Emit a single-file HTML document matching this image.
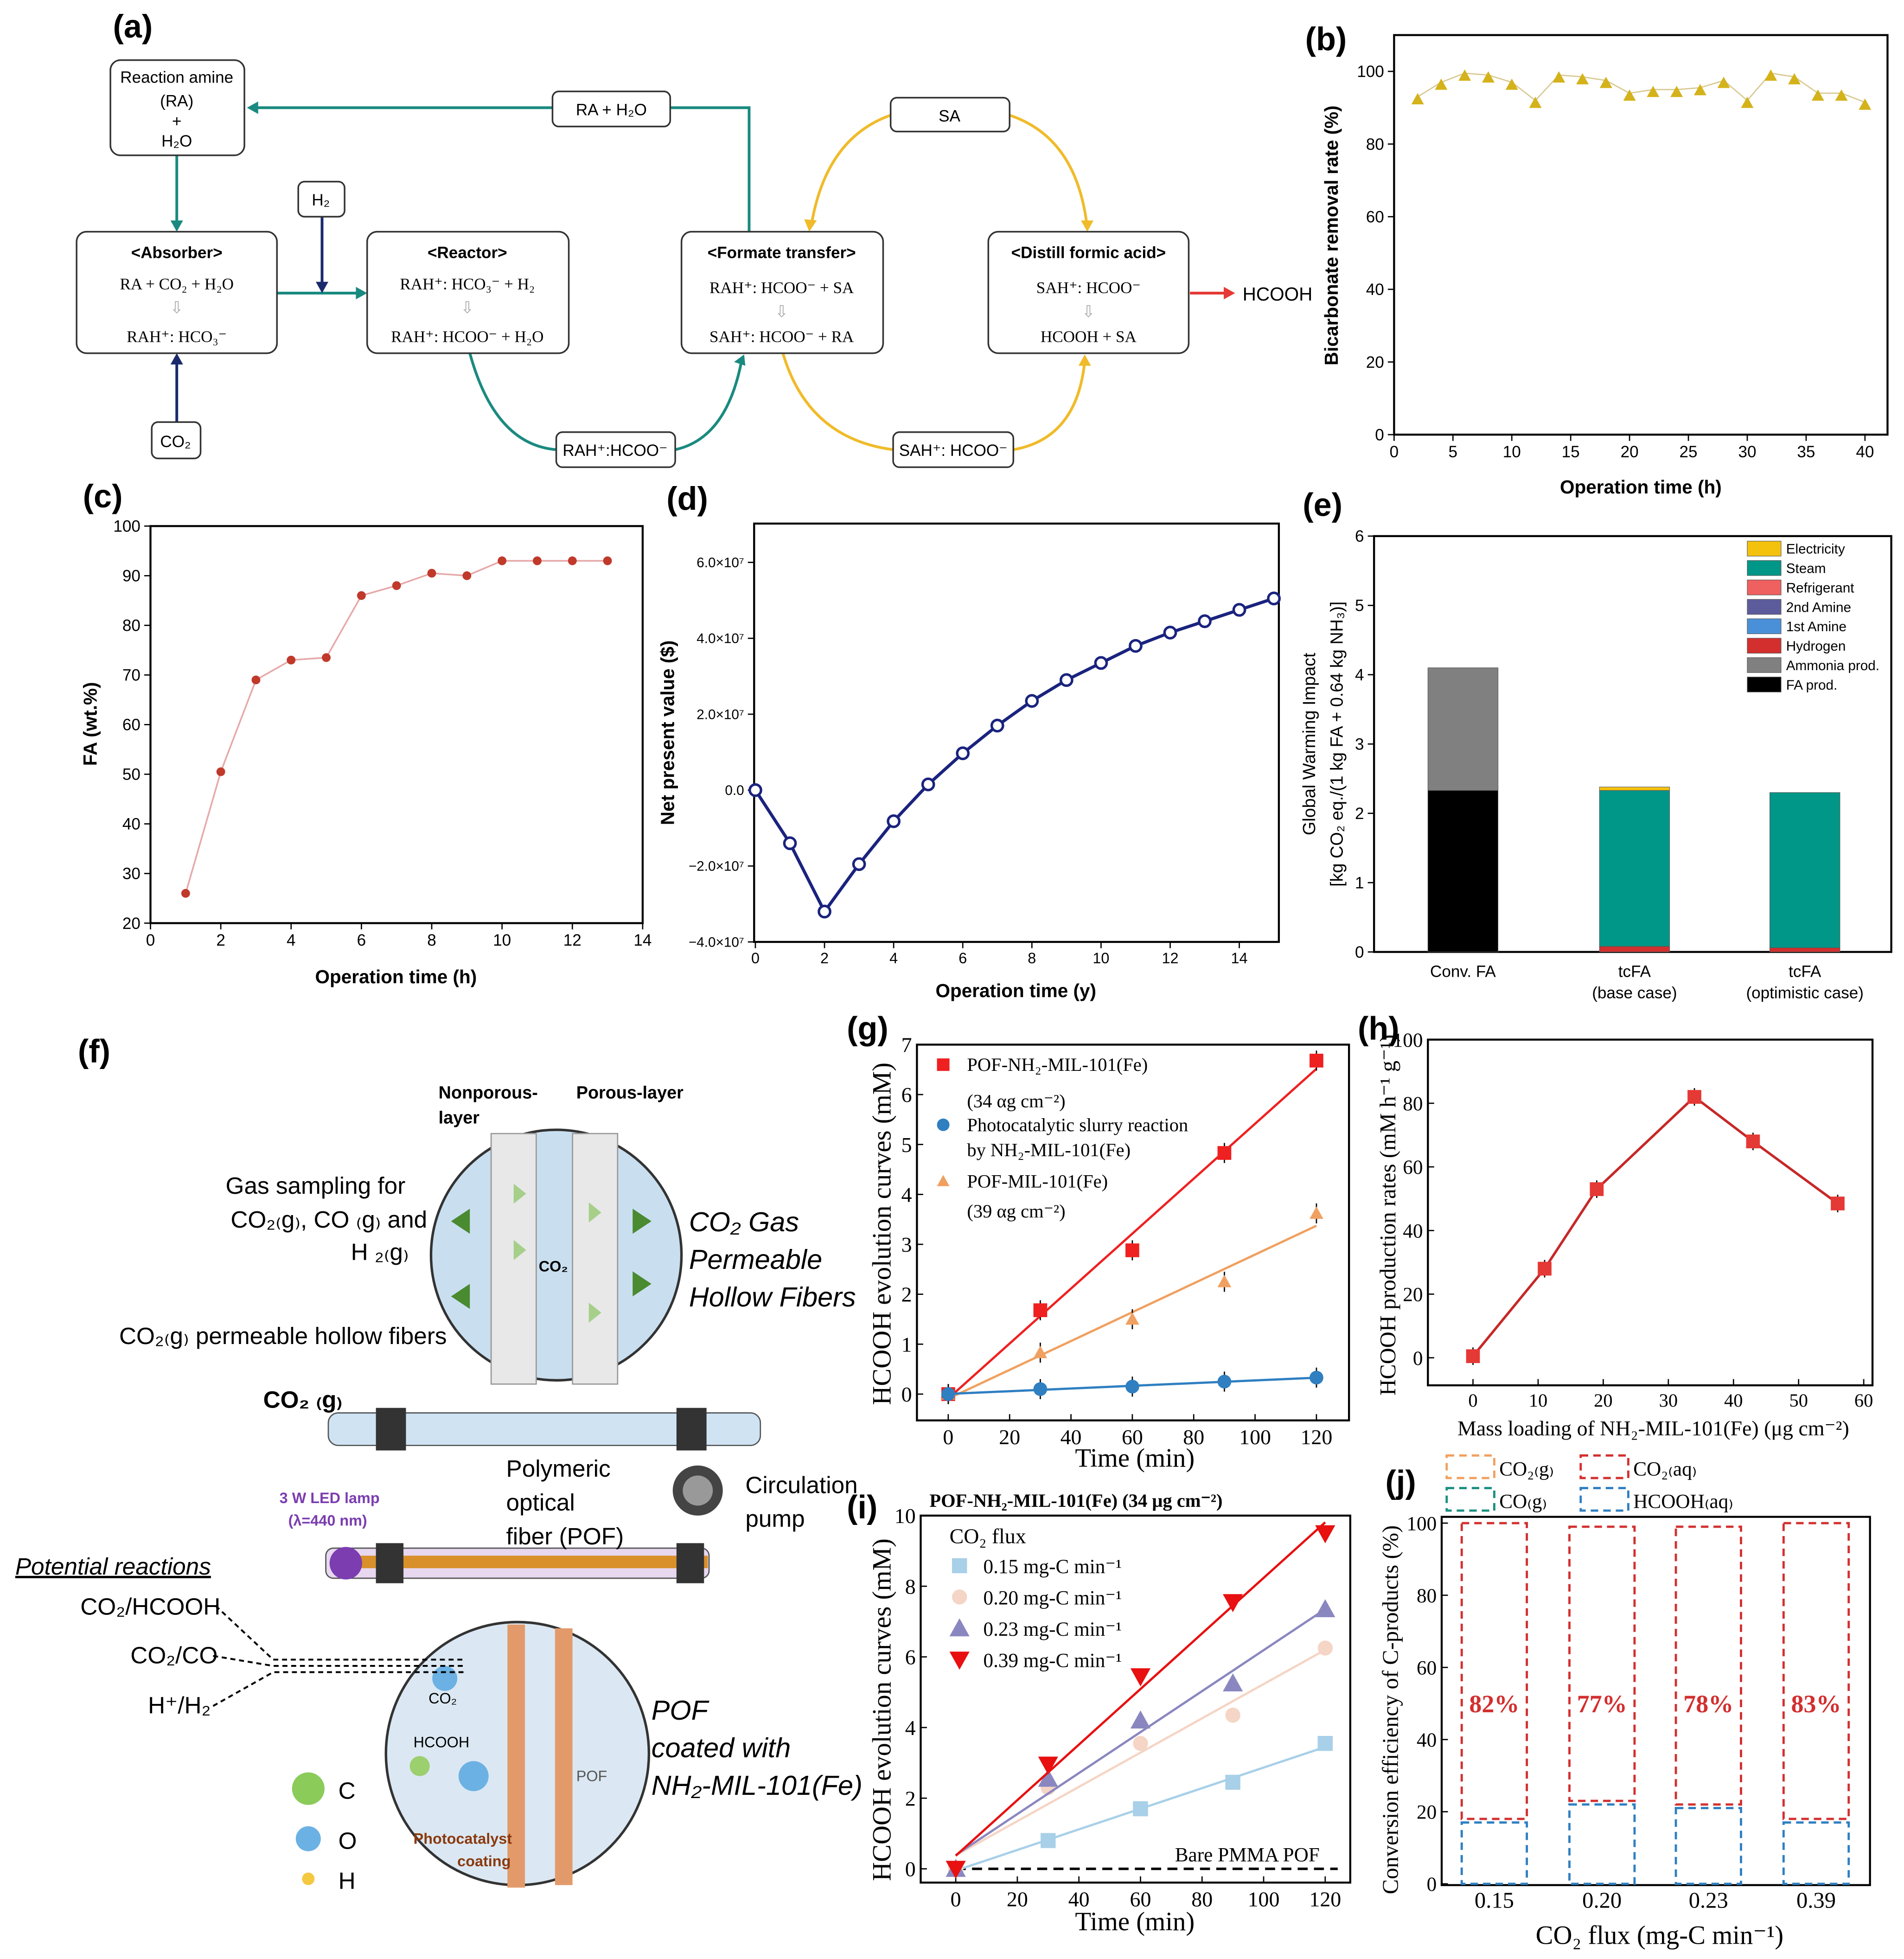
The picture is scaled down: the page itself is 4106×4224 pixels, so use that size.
<!DOCTYPE html>
<html><head><meta charset="utf-8"><style>
html,body{margin:0;padding:0;background:#fff}
svg{display:block}
.sans{font-family:"Liberation Sans",sans-serif}
.serif{font-family:"Liberation Serif",serif}
</style></head><body>
<svg id="s" width="4106" height="4224" viewBox="0 0 1520 1564" xmlns="http://www.w3.org/2000/svg">
<rect width="1520" height="1564" fill="#fff"/>
<g class="sans" font-weight="bold" font-size="26" fill="#000">
<text x="90" y="30">(a)</text>
<text x="1042" y="40">(b)</text>
<text x="66" y="405">(c)</text>
<text x="532" y="407">(d)</text>
<text x="1040" y="412">(e)</text>
<text x="62" y="848">(f)</text>
<text x="676" y="830">(g)</text>
<text x="1084" y="830">(h)</text>
<text x="676" y="1212">(i)</text>
<text x="1106" y="1192">(j)</text>
</g>

<g class="sans" font-size="13">
<g fill="none" stroke="#1a8a80" stroke-width="2.2">
<polyline points="598,185 598,86 200,86"/>
<line x1="141" y1="124" x2="141" y2="180"/>
<line x1="221" y1="234" x2="288" y2="234"/>
<path d="M375,282 Q395,355 444,359"/>
<path d="M539,359 Q580,350 592,288"/>
</g>
<g fill="#1a8a80"><path d="M197,86 l9,-5 v10z"/><path d="M141,185 l-5,-9 h10z"/><path d="M293,234 l-9,-5 v10z"/><path d="M594,283 l-8,6 9,3z"/></g>
<g fill="none" stroke="#1a2a6c" stroke-width="2.2"><line x1="257" y1="173" x2="257" y2="228"/><line x1="141" y1="337" x2="141" y2="288"/></g>
<g fill="#1a2a6c"><path d="M257,234 l-5,-9 h10z"/><path d="M141,282 l-5,9 h10z"/></g>
<g fill="none" stroke="#f0bb2a" stroke-width="2.2">
<path d="M711,92 Q660,110 648,178"/><path d="M806,92 Q860,110 868,182"/>
<path d="M625,282 Q645,350 713,359"/><path d="M809,359 Q860,350 866,288"/>
</g>
<g fill="#f0bb2a"><path d="M646,185 l-4,-10 10,1z"/><path d="M868,185 l-5,-9 h10z"/><path d="M866,283 l-5,9 h10z"/></g>
<line x1="950" y1="234" x2="980" y2="234" stroke="#e53935" stroke-width="2.2"/><path d="M986,234 l-9,-5 v10z" fill="#e53935"/>
<text x="992" y="240" font-size="15">HCOOH</text>
<g fill="#fff" stroke="#333" stroke-width="1.3">
<rect x="88" y="48" width="107" height="76" rx="8"/>
<rect x="441" y="73" width="94" height="28" rx="5"/>
<rect x="711" y="78" width="95" height="27" rx="5"/>
<rect x="238" y="145" width="37" height="28" rx="5"/>
<rect x="61" y="185" width="160" height="97" rx="8"/>
<rect x="293" y="185" width="161" height="97" rx="8"/>
<rect x="544" y="185" width="161" height="97" rx="8"/>
<rect x="789" y="185" width="160" height="97" rx="8"/>
<rect x="121" y="337" width="39" height="29" rx="5"/>
<rect x="444" y="345" width="95" height="28" rx="5"/>
<rect x="713" y="345" width="96" height="28" rx="5"/>
</g>
<g text-anchor="middle">
<text x="141" y="66">Reaction amine</text><text x="141" y="85">(RA)</text><text x="141" y="101">+</text><text x="141" y="117">H₂O</text>
<text x="488" y="92">RA + H₂O</text><text x="758" y="97">SA</text><text x="256" y="164">H₂</text><text x="140" y="357">CO₂</text>
<text x="491" y="364">RAH⁺:HCOO⁻</text><text x="761" y="364">SAH⁺: HCOO⁻</text>
<text x="141" y="206" font-weight="bold">&lt;Absorber&gt;</text><text x="141" y="231" class="serif">RA + CO₂ + H₂O</text><text x="141" y="250" fill="#aaa">⇩</text><text x="141" y="273" class="serif">RAH⁺: HCO₃⁻</text>
<text x="373" y="206" font-weight="bold">&lt;Reactor&gt;</text><text x="373" y="231" class="serif">RAH⁺: HCO₃⁻ + H₂</text><text x="373" y="250" fill="#aaa">⇩</text><text x="373" y="273" class="serif">RAH⁺: HCOO⁻ + H₂O</text>
<text x="624" y="206" font-weight="bold">&lt;Formate transfer&gt;</text><text x="624" y="234" class="serif">RAH⁺: HCOO⁻ + SA</text><text x="624" y="253" fill="#aaa">⇩</text><text x="624" y="273" class="serif">SAH⁺: HCOO⁻ + RA</text>
<text x="869" y="206" font-weight="bold">&lt;Distill formic acid&gt;</text><text x="869" y="234" class="serif">SAH⁺: HCOO⁻</text><text x="869" y="253" fill="#aaa">⇩</text><text x="869" y="273" class="serif">HCOOH + SA</text>
</g>
</g>

<g class="sans" font-size="19">
<circle cx="444" cy="1002" r="100" fill="#c9dff0" stroke="#333" stroke-width="2"/>
<rect x="392" y="905" width="36" height="200" fill="#e8e8e8" stroke="#999"/>
<rect x="457" y="905" width="36" height="200" fill="#e8e8e8" stroke="#999"/>
<g fill="#4a8a30"><path d="M360,975 l15,-10 v20z"/><path d="M360,1035 l15,-10 v20z"/><path d="M520,975 l-15,-10 v20z"/><path d="M520,1025 l-15,-10 v20z"/></g>
<g fill="#a6cf8a"><path d="M410,945 l10,8 -10,8z"/><path d="M410,990 l10,8 -10,8z"/><path d="M470,960 l10,8 -10,8z"/><path d="M470,1040 l10,8 -10,8z"/></g>
<text x="430" y="1015" font-size="12" font-weight="bold">CO₂</text>
<rect x="262" y="1128" width="345" height="26" rx="8" fill="#cfe3f3" stroke="#555"/>
<rect x="300" y="1124" width="24" height="34" fill="#333"/><rect x="540" y="1124" width="24" height="34" fill="#333"/>
<rect x="260" y="1236" width="306" height="24" rx="6" fill="#e7d8f0" stroke="#555"/>
<rect x="275" y="1242" width="290" height="10" fill="#d9902a"/>
<rect x="300" y="1232" width="22" height="32" fill="#333"/><rect x="540" y="1232" width="22" height="32" fill="#333"/>
<circle cx="276" cy="1248" r="13" fill="#7b3db0"/>
<circle cx="557" cy="1190" r="20" fill="#444"/><circle cx="557" cy="1190" r="12" fill="#999"/>
<circle cx="413" cy="1400" r="105" fill="#dbe8f3" stroke="#333" stroke-width="2"/>
<rect x="405" y="1297" width="14" height="210" fill="#e39a6a"/><rect x="443" y="1300" width="14" height="205" fill="#e39a6a"/>
<circle cx="355" cy="1340" r="10" fill="#6cb1e3"/><circle cx="378" cy="1418" r="12" fill="#6cb1e3"/><circle cx="335" cy="1410" r="8" fill="#9ccf6e"/>
<circle cx="246" cy="1428" r="13" fill="#8acb5a"/><circle cx="246" cy="1468" r="10" fill="#6cb1e3"/><circle cx="246" cy="1500" r="5" fill="#f5c842"/>
<text x="270" y="1436">C</text><text x="270" y="1476">O</text><text x="270" y="1508">H</text>
<text x="350" y="877" font-size="14" font-weight="bold">Nonporous-</text><text x="350" y="897" font-size="14" font-weight="bold">layer</text>
<text x="460" y="877" font-size="14" font-weight="bold">Porous-layer</text>
<text x="180" y="953">Gas sampling for</text><text x="184" y="980">CO₂₍g₎, CO ₍g₎ and</text><text x="280" y="1006">H ₂₍g₎</text>
<text x="95" y="1073">CO₂₍g₎ permeable hollow fibers</text>
<text x="210" y="1124" font-weight="bold">CO₂ ₍g₎</text>
<g font-style="italic"><text x="550" y="983" font-size="22">CO₂ Gas</text><text x="550" y="1013" font-size="22">Permeable</text><text x="550" y="1043" font-size="22">Hollow Fibers</text>
<text x="520" y="1373" font-size="22">POF</text><text x="520" y="1403" font-size="22">coated with</text><text x="520" y="1433" font-size="22">NH₂-MIL-101(Fe)</text>
<text x="12" y="1257" text-decoration="underline">Potential reactions</text></g>
<text x="404" y="1179">Polymeric</text><text x="404" y="1206">optical</text><text x="404" y="1233">fiber (POF)</text>
<text x="595" y="1192">Circulation</text><text x="595" y="1219">pump</text>
<text x="223" y="1200" font-size="12" fill="#7b3db0" font-weight="bold">3 W LED lamp</text><text x="230" y="1218" font-size="12" fill="#7b3db0" font-weight="bold">(λ=440 nm)</text>
<text x="64" y="1289">CO₂/HCOOH</text><text x="104" y="1328">CO₂/CO</text><text x="118" y="1368">H⁺/H₂</text>
<g stroke="#000" stroke-dasharray="4,3" stroke-width="1.5" fill="none"><path d="M172,1282 L218,1325 H370"/><path d="M170,1322 L218,1330 H370"/><path d="M170,1362 L218,1335 H370"/></g>
<text x="342" y="1360" font-size="12">CO₂</text><text x="330" y="1395" font-size="12">HCOOH</text><text x="460" y="1422" font-size="12" fill="#555">POF</text>
<text x="330" y="1472" font-size="12" fill="#8b3a0f" font-weight="bold">Photocatalyst</text><text x="365" y="1490" font-size="12" fill="#8b3a0f" font-weight="bold">coating</text>
</g>

<g class="sans" font-weight="bold" font-size="15">
<text x="1310" y="394" text-anchor="middle">Operation time (h)</text>
<text transform="translate(1068,188) rotate(-90)" text-anchor="middle">Bicarbonate removal rate (%)</text>
<text x="316" y="785" text-anchor="middle">Operation time (h)</text>
<text transform="translate(77,578) rotate(-90)" text-anchor="middle">FA (wt.%)</text>
<text x="811" y="796" text-anchor="middle">Operation time (y)</text>
<text transform="translate(538,585) rotate(-90)" text-anchor="middle">Net present value ($)</text>
</g>
<g class="sans" font-size="14">
<text transform="translate(1050,594) rotate(-90)" text-anchor="middle">Global Warming Impact</text>
<text transform="translate(1072,594) rotate(-90)" text-anchor="middle">[kg CO₂ eq./(1 kg FA + 0.64 kg NH₃)]</text>
<g font-size="13" text-anchor="middle"><text x="1168" y="780">Conv. FA</text><text x="1305" y="780">tcFA</text><text x="1305" y="797">(base case)</text><text x="1441" y="780">tcFA</text><text x="1441" y="797">(optimistic case)</text></g>
</g>
<g class="serif" font-size="21">
<text x="906" y="1171" text-anchor="middle">Time (min)</text>
<text transform="translate(711,985) rotate(-90)" text-anchor="middle">HCOOH evolution curves (mM)</text>
<text x="1320" y="1146" text-anchor="middle" font-size="17">Mass loading of NH₂-MIL-101(Fe) (μg cm⁻²)</text>
<text transform="translate(1114,970) rotate(-90)" text-anchor="middle" font-size="18">HCOOH production rates (mM h⁻¹ g⁻¹)</text>
<text x="906" y="1541" text-anchor="middle">Time (min)</text>
<text transform="translate(711,1365) rotate(-90)" text-anchor="middle">HCOOH evolution curves (mM)</text>
<text x="742" y="1203" font-size="15" font-weight="bold">POF-NH₂-MIL-101(Fe) (34 μg cm⁻²)</text>
<text x="1325" y="1552" text-anchor="middle">CO₂ flux (mg-C min⁻¹)</text>
<text transform="translate(1116,1365) rotate(-90)" text-anchor="middle" font-size="18">Conversion efficiency of C-products (%)</text>
</g>
</svg>
<script>
const svg=document.getElementById('s');
const NS='http://www.w3.org/2000/svg';
const bX=[2,4,6,8,10,12,14,16,18,20,22,24,26,28,30,32,34,36,38,40];
const bY=[93,97,99.5,99,97,92,99,98.5,97.5,94,95,95,95.5,97.5,92,99.5,98.5,94,94,91.5];
const cX=[1,2,3,4,5,6,7,8,9,10,11,12,13];
const cY=[26,50.5,69,73,73.5,86,88,90.5,90,93,93,93,93];
const dX=[0,1,2,3,4,5,6,7,8,9,10,11,12,13,14,15];
const dY=[0,-1.4,-3.2,-1.95,-0.82,0.15,0.97,1.7,2.35,2.9,3.35,3.8,4.15,4.45,4.75,5.05];
const eCats=['Conv. FA','tcFA base','tcFA optimistic'];
const eFA=[2.33,0,0];
const eAmmonia=[1.77,0,0];
const eHydrogen=[0,0.08,0.06];
const eSteam=[0,2.25,2.24];
const eElec=[0,0.05,0];
const gT=[0,30,60,90,120];
const gRed=[0,1.68,2.88,4.83,6.68];
const gOrange=[0,0.83,1.5,2.25,3.62];
const gBlue=[0,0.1,0.15,0.25,0.33];
const hX=[0,11,19,34,43,56];
const hY=[0.5,28,53,82,68,48.5];
const iT=[0,30,60,90,120];
const i015=[0,0.8,1.7,2.45,3.55];
const i020=[0,2.3,3.55,4.35,6.25];
const i023=[0,2.55,4.2,5.25,7.35];
const i039=[0,2.95,5.45,7.55,9.5];
const jCats=['0.15','0.20','0.23','0.39'];
const jHCOOH=[17,22,21,17];
const jTop=[100,99,99,100];
const jPct=['82%','77%','78%','83%'];

function mk(tag,a,p){const e=document.createElementNS(NS,tag);for(const k in a)e.setAttribute(k,a[k]);(p||svg).appendChild(e);return e;}
function lin(d0,d1,r0,r1){return v=>r0+(v-d0)*(r1-r0)/(d1-d0);}
function frame(x0,y0,x1,y1,name){const r=mk('rect',{x:x0,y:y0,width:x1-x0,height:y1-y0,fill:'none',stroke:'#000','stroke-width':1.6});

}
function xt(vals,sx,y,fs,cls,lab,inward){vals.forEach((v,k)=>{mk('line',{x1:sx(v),x2:sx(v),y1:y,y2:y+(inward?-5:5),stroke:'#000'});
const t=mk('text',{x:sx(v),y:y+fs+(inward?2:5),'text-anchor':'middle','font-size':fs,class:cls});t.textContent=lab?lab[k]:v;

});}
function yt(vals,sy,x,fs,cls,lab,inward){vals.forEach((v,k)=>{mk('line',{x1:x,x2:x+(inward?5:-5),y1:sy(v),y2:sy(v),stroke:'#000'});
const t=mk('text',{x:x-(inward?4:8),y:sy(v)+fs*0.35,'text-anchor':'end','font-size':fs,class:cls});t.textContent=lab?lab[k]:v;

});}
function poly(xs,ys,sx,sy,col,w,name){const p=mk('polyline',{points:xs.map((x,k)=>sx(x)+','+sy(ys[k])).join(' '),fill:'none',stroke:col,'stroke-width':w});

}
function fit(xs,ys){const n=xs.length,mx=xs.reduce((a,b)=>a+b)/n,my=ys.reduce((a,b)=>a+b)/n;let num=0,den=0;xs.forEach((x,k)=>{num+=(x-mx)*(ys[k]-my);den+=(x-mx)**2;});const m=num/den;return [m,my-m*mx];}
function marker(shape,x,y,s,fill,stroke){let e;
if(shape==='sq')e=mk('rect',{x:x-s,y:y-s,width:2*s,height:2*s,fill:fill,stroke:stroke||'none'});
else if(shape==='ci')e=mk('circle',{cx:x,cy:y,r:s,fill:fill,stroke:stroke||'none','stroke-width':2});
else if(shape==='tu')e=mk('path',{d:`M${x},${y-s} l${s},${1.8*s} h${-2*s}z`,fill:fill});
else e=mk('path',{d:`M${x},${y+s} l${s},${-1.8*s} h${-2*s}z`,fill:fill});
return e;}

{const sx=lin(0,40,1113,1489),sy=lin(0,100,347,57);
frame(1113,28,1507,347,'b-plot-area');
xt([0,5,10,15,20,25,30,35,40],sx,347,13,'sans');yt([0,20,40,60,80,100],sy,1113,13,'sans');
poly(bX,bY,sx,sy,'#d8c890',1,'b-line');
bX.forEach((x,k)=>{const m=marker('tu',sx(x),sy(bY[k])+2,5,'#d4b21a');

});}
{const sx=lin(0,14,120,513),sy=lin(20,100,737,420);
frame(120,420,513,737,'c-plot-area');
xt([0,2,4,6,8,10,12,14],sx,737,13,'sans');yt([20,30,40,50,60,70,80,90,100],sy,120,13,'sans');
poly(cX,cY,sx,sy,'#e6a8a8',1.3,'c-line');
cX.forEach((x,k)=>{const m=marker('ci',sx(x),sy(cY[k]),3.5,'#c0392b');

});}
{const sx=lin(0,15,603,1017),sy=lin(-4,6,752,449);
frame(602,418,1021,752,'d-plot-area');
xt([0,2,4,6,8,10,12,14],sx,752,12,'sans');
yt([-4,-2,0,2,4,6],sy,602,11,'sans',['−4.0×10⁷','−2.0×10⁷','0.0','2.0×10⁷','4.0×10⁷','6.0×10⁷']);
poly(dX,dY,sx,sy,'#1a237e',2.5,'d-line');
dX.forEach((x,k)=>{const m=marker('ci',sx(x),sy(dY[k]),4.5,'#fff','#1a237e');

});}
{const sy=lin(0,6,760,428),cx=[1168,1305,1441];
frame(1097,428,1510,760,'e-plot-area');
yt([0,1,2,3,4,5,6],sy,1097,13,'sans');
const stacks=[[eFA,'#000'],[eHydrogen,'#d32f2f'],[eAmmonia,'#808080'],[eSteam,'#009688'],[eElec,'#f4c20d']];
eCats.forEach((c,k)=>{let base=0;stacks.forEach(([arr,col])=>{if(arr[k]>0){const r=mk('rect',{x:cx[k]-28,y:sy(base+arr[k]),width:56,height:sy(base)-sy(base+arr[k]),fill:col,stroke:'#555','stroke-width':0.4});

base+=arr[k];}});});
const leg=[['Electricity','#f4c20d'],['Steam','#009688'],['Refrigerant','#ef6060'],['2nd Amine','#5c5c9c'],['1st Amine','#4a90d9'],['Hydrogen','#d32f2f'],['Ammonia prod.','#808080'],['FA prod.','#000']];
leg.forEach(([n,col],k)=>{const y=432+k*15.5;mk('rect',{x:1395,y:y,width:27,height:12,fill:col,stroke:'#555','stroke-width':0.4});
const t=mk('text',{x:1426,y:y+10,'font-size':11,class:'sans'});t.textContent=n;

});}
// panel g
{const sx=lin(0,120,757,1051),sy=lin(0,7,1113,834);
frame(732,834,1077,1134,'g-plot-area');
xt([0,20,40,60,80,100,120],sx,1134,17,'serif',null,true);yt([0,1,2,3,4,5,6,7],sy,732,17,'serif',null,true);
[[gRed,'#ef2020','sq'],[gOrange,'#f0a060','tu'],[gBlue,'#2f7fc1','ci']].forEach(([ys,col,sh])=>{const [m,b]=fit(gT,ys);
const l=mk('line',{x1:sx(0),y1:sy(b),x2:sx(120),y2:sy(b+120*m),stroke:col,'stroke-width':1.8});


gT.forEach((x,k)=>{mk('line',{x1:sx(x),x2:sx(x),y1:sy(ys[k])-8,y2:sy(ys[k])+8,stroke:'#000','stroke-width':1});
const e=marker(sh,sx(x),sy(ys[k]),5.5,col);

});});
const L=[['sq','#ef2020',855,'POF-NH₂-MIL-101(Fe)'],[null,null,884,'(34 αg cm⁻²)'],['ci','#2f7fc1',903,'Photocatalytic slurry reaction'],[null,null,923,'by NH₂-MIL-101(Fe)'],['tu','#f0a060',948,'POF-MIL-101(Fe)'],[null,null,972,'(39 αg cm⁻²)']];
L.forEach(([sh,col,y,txt])=>{if(sh)marker(sh,753,y-5,5,col);const t=mk('text',{x:772,y:y,'font-size':15,class:'serif'});t.textContent=txt;

});}
// panel h
{const sx=lin(0,60,1176,1488),sy=lin(0,100,1084,830);
frame(1140,830,1495,1106,'h-plot-area');
xt([0,10,20,30,40,50,60],sx,1106,15,'serif',null,true);yt([0,20,40,60,80,100],sy,1140,16,'serif',null,true);
poly(hX,hY,sx,sy,'#c62828',2,'h-line');
hX.forEach((x,k)=>{mk('line',{x1:sx(x),x2:sx(x),y1:sy(hY[k])-7,y2:sy(hY[k])+7,stroke:'#000'});
const e=marker('sq',sx(x),sy(hY[k]),5.5,'#e53935');

});}
// panel i
{const sx=lin(0,120,763,1058),sy=lin(0,10,1492,1210);
frame(735,1210,1078,1503,'i-plot-area');
xt([0,20,40,60,80,100,120],sx,1503,17,'serif',null,true);yt([0,2,4,6,8,10],sy,735,17,'serif',null,true);
const dl=mk('line',{x1:763,y1:1492,x2:1068,y2:1492,stroke:'#000','stroke-dasharray':'8,5','stroke-width':2});


const bt=mk('text',{x:938,y:1486,'font-size':16,class:'serif'});bt.textContent='Bare PMMA POF';
const S=[[i015,'#a8d0e8','sq','0.15'],[i020,'#f5d5c5','ci','0.20'],[i023,'#8a87c0','tu','0.23'],[i039,'#e81010','td','0.39']];
S.forEach(([ys,col,sh])=>{const [m,b]=fit(iT,ys);
const l=mk('line',{x1:sx(0),y1:sy(b),x2:sx(120),y2:sy(b+120*m),stroke:col,'stroke-width':1.8});


iT.forEach((x,k)=>{const e=marker(sh,sx(x),sy(ys[k]),sh==='td'||sh==='tu'?8:6,col);

});});
const t0=mk('text',{x:758,y:1232,'font-size':17,class:'serif'});t0.textContent='CO₂ flux';
S.forEach(([ys,col,sh,lab],k)=>{const y=1256+k*25;marker(sh,766,y-6,sh==='td'||sh==='tu'?8:6,col);
const t=mk('text',{x:785,y:y,'font-size':16,class:'serif'});t.textContent=lab+' mg-C min⁻¹';

});}
// panel j
{const sy=lin(0,100,1504,1216),cx=[1193,1279,1364,1450];
frame(1151,1211,1493,1505,'j-plot-area');
yt([0,20,40,60,80,100],sy,1151,16,'serif',null,true);
jCats.forEach((c,k)=>{const x0=cx[k]-26;
const r1=mk('rect',{x:x0,y:sy(jTop[k]),width:52,height:sy(jHCOOH[k]+1)-sy(jTop[k]),fill:'none',stroke:'#d32f2f','stroke-width':1.8,'stroke-dasharray':'6,4'});


const r2=mk('rect',{x:x0,y:sy(jHCOOH[k]),width:52,height:sy(0)-sy(jHCOOH[k]),fill:'none',stroke:'#2f7fc1','stroke-width':1.8,'stroke-dasharray':'6,4'});


const p=mk('text',{x:cx[k],y:sy(50)+7,'font-size':20,'font-weight':'bold','text-anchor':'middle',fill:'#d32f2f',class:'serif'});p.textContent=jPct[k];


const t=mk('text',{x:cx[k],y:1523,'font-size':18,'text-anchor':'middle',class:'serif'});t.textContent=c;

});
const JL=[[1155,1162,'#f0a060','CO₂₍g₎'],[1262,1162,'#d32f2f','CO₂₍aq₎'],[1155,1188,'#1a9080','CO₍g₎'],[1262,1188,'#2f7fc1','HCOOH₍aq₎']];
JL.forEach(([x,y,col,txt])=>{mk('rect',{x:x,y:y,width:38,height:18,fill:'none',stroke:col,'stroke-width':1.8,'stroke-dasharray':'6,4'});
const t=mk('text',{x:x+42,y:y+16,'font-size':16,class:'serif'});t.textContent=txt;

});}
</script>
</body></html>
